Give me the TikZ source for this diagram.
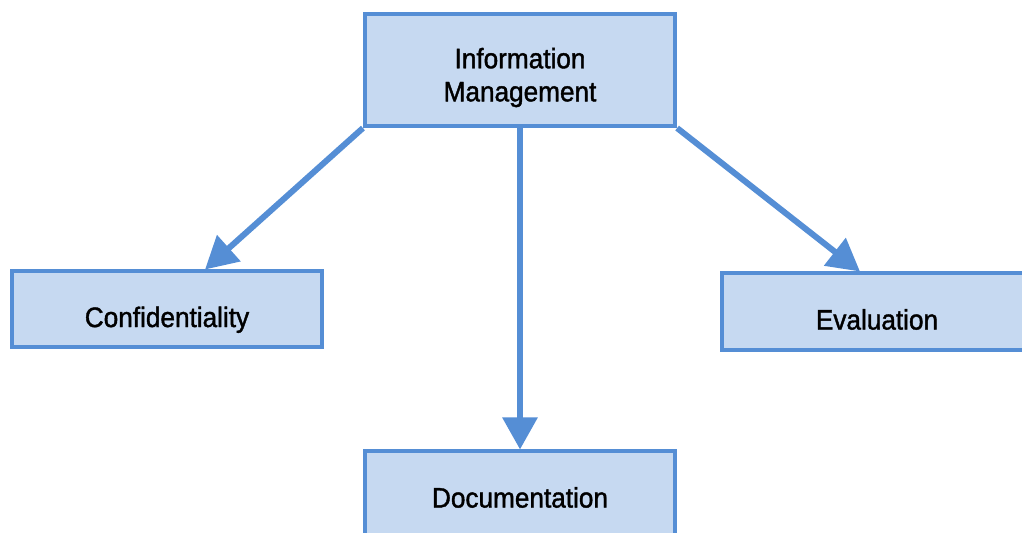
\documentclass[tikz,border=0pt]{standalone}
\usepackage{fontspec}
\setmainfont[FakeStretch=0.93,FakeBold=1.4]{Liberation Sans}
\usetikzlibrary{arrows.meta}
\definecolor{boxfill}{HTML}{C6D9F1}
\definecolor{boxline}{HTML}{558ED5}
\def\infoarrow{\draw[-{Triangle[length=0.32cm,width=0.34cm]},line width=0.06cm,color=boxline]}
\def\dropline#1{\raisebox{-0.075cm}[\height][\depth]{#1}}

\begin{document}
\begin{tikzpicture}[x=0.01cm,y=-0.01cm,
  box/.style={draw=boxline,fill=boxfill,line width=0.04cm,inner sep=0pt,align=center,
    minimum width=3.1cm,font=\fontsize{8}{9.4}\selectfont},
  lowtext/.style={text height=0.36cm,text depth=0pt}]
\useasboundingbox (0,0) rectangle (1022,532);
\node (info) at (520,70) [box,minimum height=1.12cm] {\dropline{Information}\\\dropline{Management}};
\node (conf) at (167,309) [box,lowtext,minimum height=0.75cm] {Confidentiality};
\node (eval) at (877,311.5) [box,lowtext,minimum height=0.76cm] {Evaluation};
\node (doc) at (520,507.5) [box,minimum height=1.12cm,text height=0.1cm,text depth=0.1cm] {Documentation};
\infoarrow (info.south west) -- ([xshift=0.38cm]conf.north);
\infoarrow (info.south) -- (doc.north);
\infoarrow (info.south east) -- ([xshift=-0.17cm]eval.north);
\end{tikzpicture}
\end{document}
